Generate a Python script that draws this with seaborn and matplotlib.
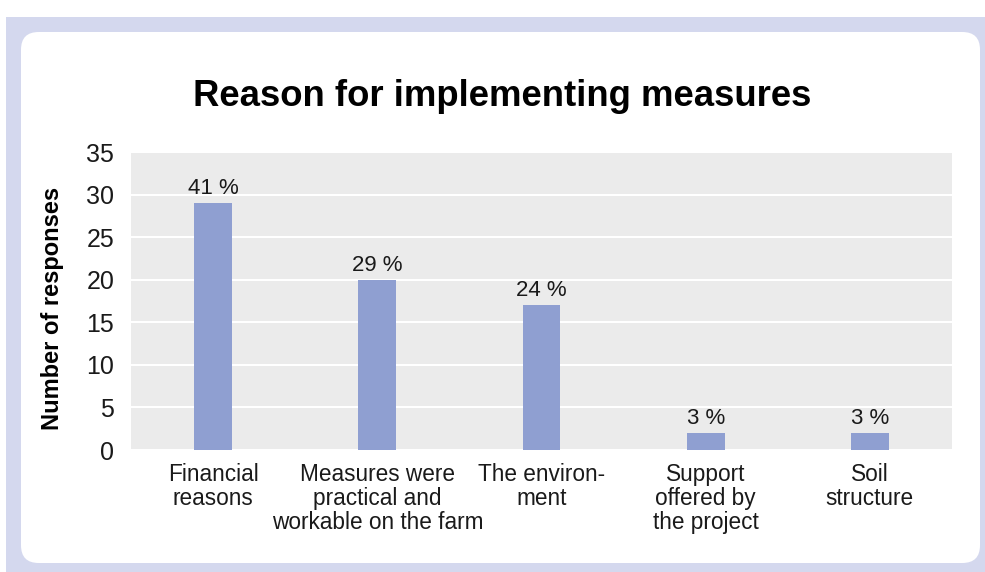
import matplotlib
matplotlib.use("Agg")
import matplotlib.pyplot as plt
from matplotlib.patches import Rectangle, FancyBboxPatch
import seaborn as sns
import pandas as pd

# Survey results: reasons given by farmers for implementing measures
categories = [
    "Financial\nreasons",
    "Measures were\npractical and\nworkable on the farm",
    "The environ-\nment",
    "Support\noffered by\nthe project",
    "Soil\nstructure",
]
responses = [29, 20, 17, 2, 2]
y_ticks = [0, 5, 10, 15, 20, 25, 30, 35]

total = sum(responses)
pct_labels = [f"{round(v / total * 100)} %" for v in responses]

df = pd.DataFrame({"reason": categories, "responses": responses})

sns.set_theme(style="darkgrid")
plt.rcParams["font.family"] = ["Liberation Sans", "DejaVu Sans"]

W, H = 985, 572
fig = plt.figure(figsize=(W / 100, H / 100), dpi=100)
fig.patch.set_facecolor("white")

# Framed panel: lavender border with a rounded white card on top
fig.add_artist(Rectangle((6 / W, 0), 1 - 6 / W, 1 - 17 / H,
                         transform=fig.transFigure, facecolor="#d4d8ee",
                         edgecolor="none", zorder=-10))
fig.add_artist(FancyBboxPatch((21 / W, 9 / H), (980 - 21) / W, (540 - 9) / H,
                              boxstyle="round,pad=0,rounding_size=0.018",
                              transform=fig.transFigure, facecolor="white",
                              edgecolor="none", zorder=-9,
                              mutation_aspect=W / H))

ax = fig.add_axes([131 / W, 1 - 450 / H, (952 - 131) / W, (450 - 152) / H])
ax.set_facecolor("#ebebeb")

sns.barplot(data=df, x="reason", y="responses", color="#8f9fd1",
            saturation=1, width=0.23, linewidth=0, ax=ax, zorder=3)

ax.bar_label(ax.containers[0], labels=pct_labels, padding=3,
             fontsize=16, color="#1a1a1a")

ax.set_ylim(0, 35)
ax.set_yticks(y_ticks)
ax.set_xlim(-0.5, len(categories) - 0.5)
ax.grid(axis="y", color="white", linewidth=1.5)
ax.grid(axis="x", visible=False)
for s in ax.spines.values():
    s.set_visible(False)

ax.tick_params(axis="y", length=0, pad=12, labelsize=18, labelcolor="#1a1a1a")
ax.tick_params(axis="x", length=0, pad=9.5, labelsize=16.3, labelcolor="#1a1a1a")
for lbl in ax.get_xticklabels():
    lbl.set_linespacing(1.05)

ax.set_xlabel("")
ax.set_ylabel("Number of responses", fontsize=17, fontweight="bold",
              color="black")
ax.yaxis.set_label_coords(-0.082, 0.476)

fig.text(502 / W, 1 - 97 / H, "Reason for implementing measures",
         ha="center", va="center", fontsize=26.3, fontweight="bold",
         color="black")

fig.savefig("out.png", dpi=100, facecolor=fig.get_facecolor())
